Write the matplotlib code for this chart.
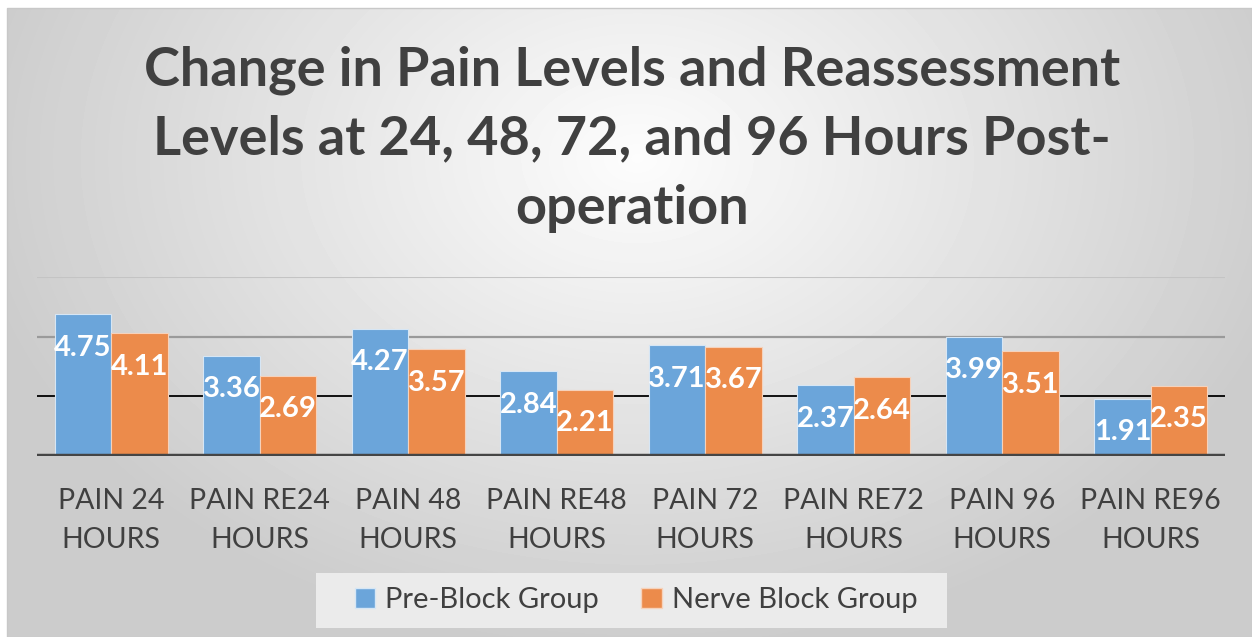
import numpy as np
import matplotlib
matplotlib.use("Agg")
import matplotlib.pyplot as plt
from matplotlib.patches import Patch, Rectangle

categories = ["PAIN 24\nHOURS", "PAIN RE24\nHOURS", "PAIN 48\nHOURS", "PAIN RE48\nHOURS",
              "PAIN 72\nHOURS", "PAIN RE72\nHOURS", "PAIN 96\nHOURS", "PAIN RE96\nHOURS"]
pre_block = [4.75, 3.36, 4.27, 2.84, 3.71, 2.37, 3.99, 1.91]
nerve_block = [4.11, 2.69, 3.57, 2.21, 3.67, 2.64, 3.51, 2.35]
series_names = ["Pre-Block Group", "Nerve Block Group"]
title = "Change in Pain Levels and Reassessment\nLevels at 24, 48, 72, and 96 Hours Post-\noperation"

W, H, DPI = 1252, 637, 100
fig = plt.figure(figsize=(W / DPI, H / DPI), dpi=DPI)
fig.patch.set_facecolor("white")

# background gradient panel
bg = fig.add_axes([7 / W, 0, (W - 7) / W, (H - 8) / H], zorder=-5)
yy, xx = np.mgrid[0:H - 8, 0:W - 7]
d = np.sqrt(((xx - 630) / 740.0) ** 2 + ((yy - 150) / 540.0) ** 2)
val = np.clip(0.99 - 0.21 * d, 0.80, 1.0)
bg.imshow(val, cmap="gray", vmin=0, vmax=1, aspect="auto", interpolation="bilinear")
bg.set_axis_off()
fig.add_artist(Rectangle((7 / W, 0), (W - 7) / W, (H - 8) / H, transform=fig.transFigure,
                         fill=False, edgecolor="#c8c8c8", lw=1.0, zorder=-4))

font = "Lato"
txt = "#404040"
blue = "#6BA5DA"
orange = "#EC8B4B"

ax = fig.add_axes([37 / W, 1 - 456 / H, (1225 - 37) / W, (456 - 277) / H])
ax.patch.set_alpha(0)
x = np.arange(len(categories))
bw = 0.38
for yv, c, lw in [(6, "#c4c4c4", 1.5), (4, "#9a9a9a", 1.6), (2, "#000000", 1.3)]:
    ax.axhline(yv, color=c, lw=lw, zorder=1)
ax.axhline(0, color="#454545", lw=3.2, zorder=4)

b1 = ax.bar(x - bw / 2, pre_block, bw, color=blue, edgecolor="#d6e6f5", lw=0.8, zorder=2)
b2 = ax.bar(x + bw / 2, nerve_block, bw, color=orange, edgecolor="#f6d2bb", lw=0.8, zorder=2)
for bars, vals in [(b1, pre_block), (b2, nerve_block)]:
    for r, v in zip(bars, vals):
        ax.annotate(f"{v:.2f}", (r.get_x() + r.get_width() / 2, v), xytext=(0, -24),
                    textcoords="offset points", ha="center", va="center", color="white",
                    fontsize=21, fontweight="bold", family=font, zorder=5)

ax.set_xlim(-0.5, len(categories) - 0.5)
ax.set_ylim(0, 6)
ax.set_yticks([])
ax.set_xticks(x)
ax.set_xticklabels(categories, fontsize=20.5, family=font, color=txt, linespacing=1.6)
ax.tick_params(axis="x", length=0, pad=23)
for s in ax.spines.values():
    s.set_visible(False)

fig.text(0.505, 1 - 139 / H, title, ha="center", va="center", fontsize=39, fontweight="bold",
         family=font, color=txt, linespacing=1.5)

# legend box background
fig.add_artist(Rectangle((316 / W, 1 - 628 / H), (947 - 316) / W, (628 - 573) / H,
                         transform=fig.transFigure, facecolor="#ebebeb", edgecolor="none", zorder=-3))
handles = [Patch(facecolor=blue, edgecolor="#d6e6f5"), Patch(facecolor=orange, edgecolor="#f6d2bb")]
leg = fig.legend(handles, series_names, loc="center", bbox_to_anchor=(636 / W, 1 - 600 / H),
                 ncol=2, frameon=False, prop={"family": font, "size": 21},
                 handlelength=0.7, handleheight=0.7, handletextpad=0.35, columnspacing=1.45,
                 borderpad=0.45, borderaxespad=0)
for t in leg.get_texts():
    t.set_color(txt)

fig.savefig("out.png", dpi=DPI)
